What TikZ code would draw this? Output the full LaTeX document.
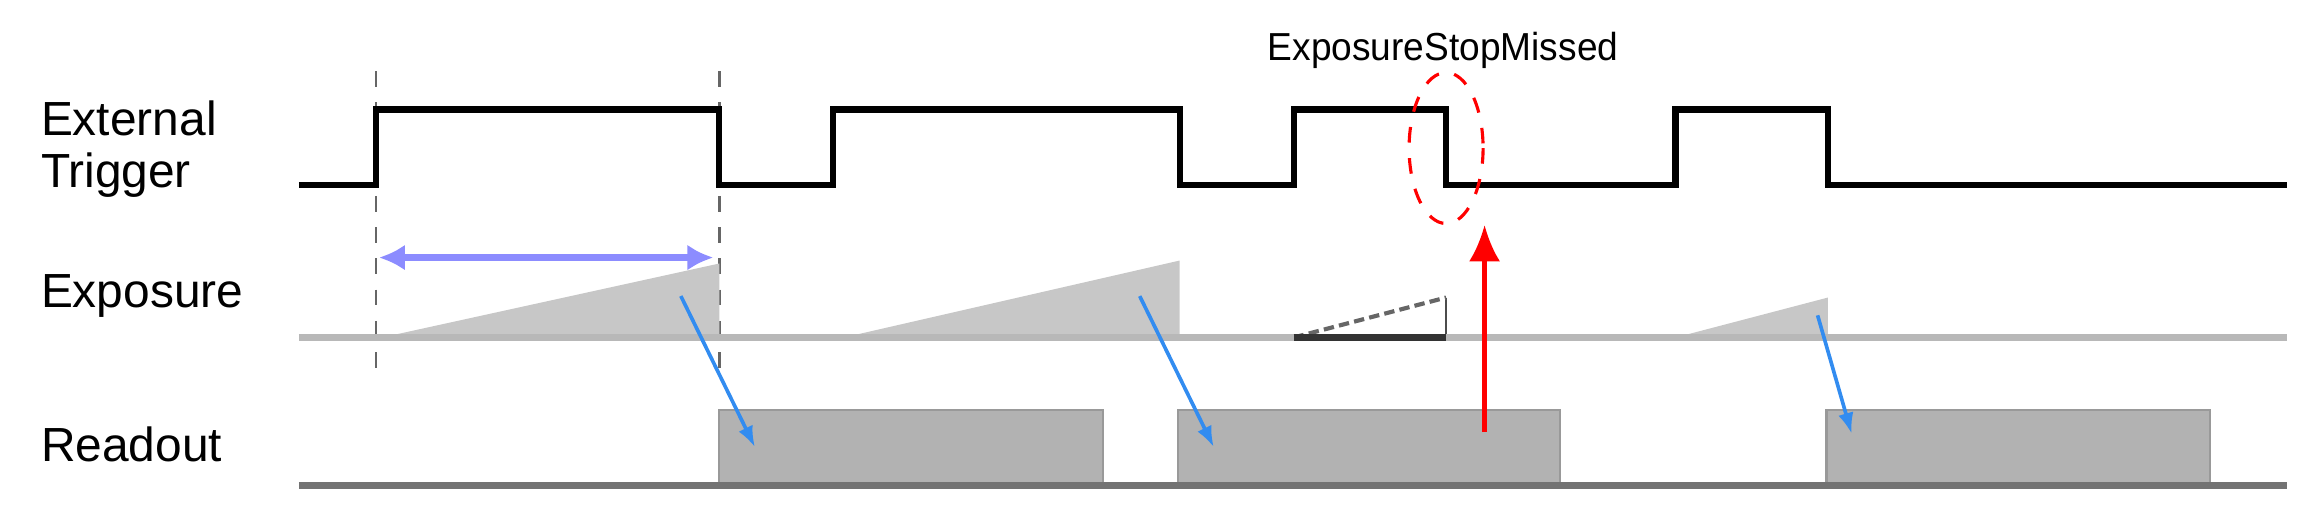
\documentclass[tikz,border=0pt]{standalone}
\usepackage{fontspec}
\setmainfont{Liberation Sans}
\usetikzlibrary{arrows.meta}
\begin{document}
\begin{tikzpicture}[x=0.01cm,y=-0.01cm,
  lbl/.style={anchor=west,font=\fontsize{9.2}{11}\selectfont,inner sep=0},
  sig/.style={line width=1.2pt},
  rbox/.style={fill=black!30,draw=black!40,line width=0.4pt},
  barrow/.style={draw={rgb,255:red,50;green,140;blue,240},line width=0.7pt,-{Latex[length=4pt,width=3pt]}}]
\useasboundingbox (0,0) rectangle (1560,353);
\node[lbl] (l1) at (27,80) {External};
\node[lbl] (l2) at (27,118) {Trigger};
\node[lbl] (l3) at (27,200) {Exposure};
\node[lbl] (l4) at (27,300) {Readout};
\draw[black!60,dashed,line width=0.5pt] (254,48) -- (254,250) (486,48) -- (486,250);
\draw[sig] (202,125) -- (254,125) -- (254,74) -- (486,74) -- (486,125) -- (563,125) -- (563,74) -- (797,74) -- (797,125) -- (874,125) -- (874,74) -- (977,74) -- (977,125) -- (1132,125) -- (1132,74) -- (1235,74) -- (1235,125) -- (1545,125);
% exposure
\fill[black!22] (258,228) -- (486,178) -- (486,228) -- cycle;
\fill[black!22] (570,228) -- (797,176) -- (797,228) -- cycle;
\fill[black!22] (1132,228) -- (1235,201) -- (1235,228) -- cycle;
\draw[black!70,line width=0.5pt] (977,201) -- (977,228);
\draw[black!60,dash pattern=on 2pt off 1pt,line width=0.8pt] (874,228) -- (977,201);
\draw[black!28,line width=1.2pt] (202,228) -- (1545,228);
\draw[black!80,line width=1.3pt] (874,228) -- (977,228);
\draw[{Latex[length=5pt,width=5pt]}-{Latex[length=5pt,width=5pt]},draw=blue!45!white,line width=1.5pt] (256,174) -- (482,174);
% readout
\draw[rbox] (486,277) rectangle (745,328);
\draw[rbox] (796,277) rectangle (1054,328);
\draw[rbox] (1234,277) rectangle (1493,328);
\draw[black!55,line width=1.2pt] (202,328) -- (1545,328);
\draw[barrow] (460,200) -- (510,302);
\draw[barrow] (770,200) -- (820,302);
\draw[barrow] (1228,213) -- (1251,293);
\draw[red,line width=0.9pt,-{Latex[length=7pt,width=6pt]}] (1003,292) -- (1003,152);
\draw[red,dashed,line width=0.6pt] (977,100) ellipse [x radius=25,y radius=51];
\node[font=\fontsize{7.5}{9}\selectfont,inner sep=0,xscale=0.95] (t) at (975,34) {ExposureStopMissed};
\end{tikzpicture}
\end{document}
